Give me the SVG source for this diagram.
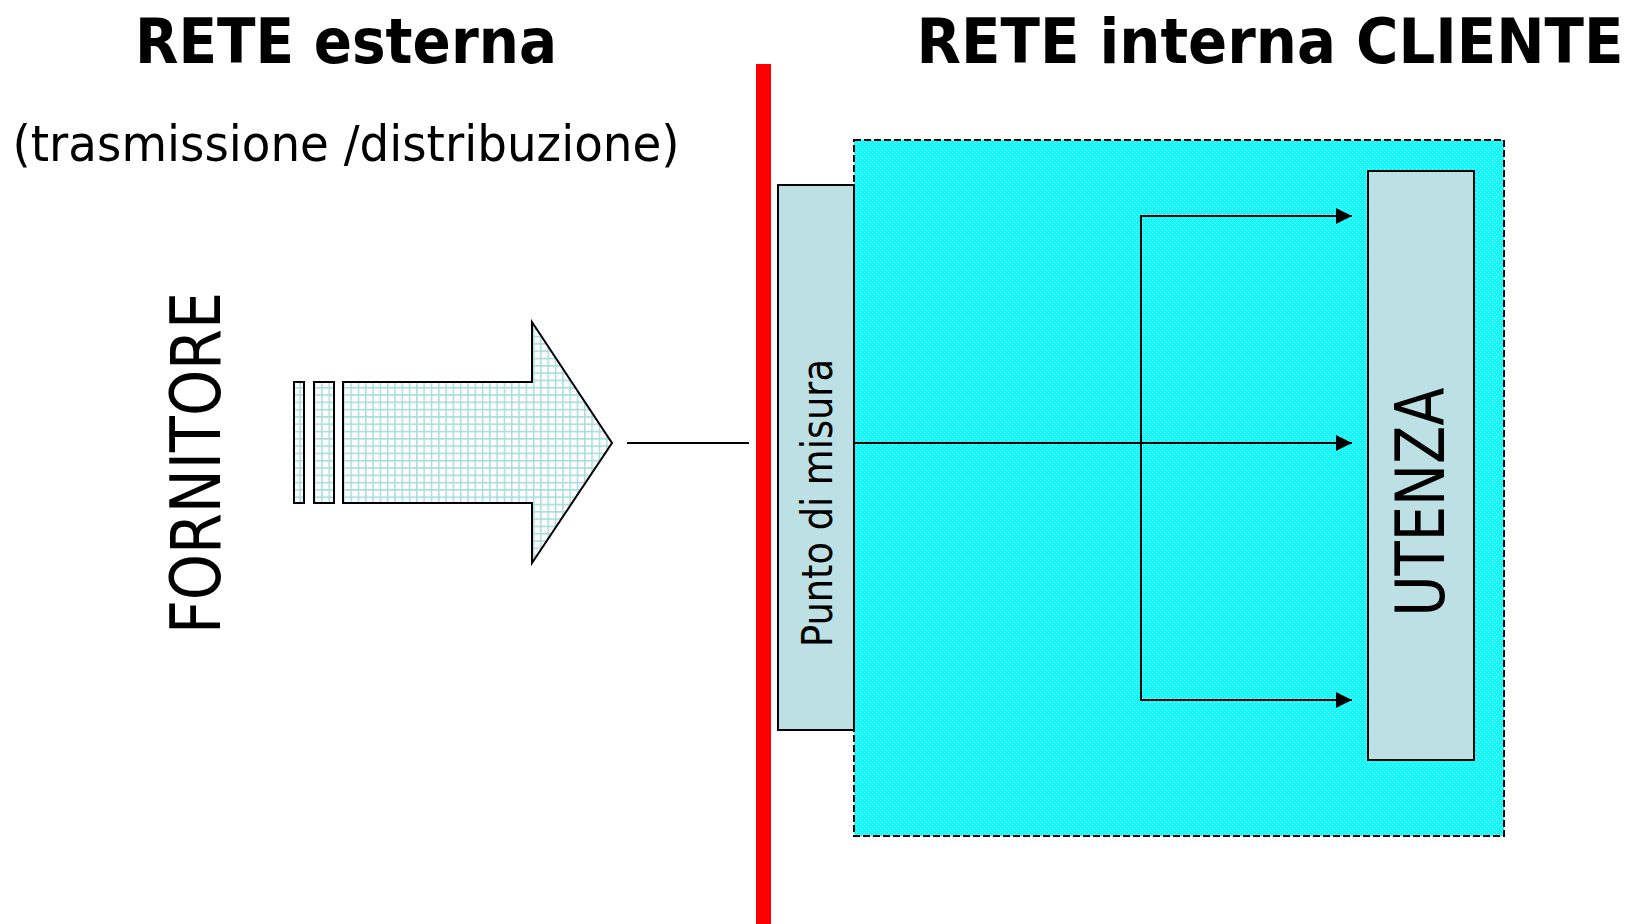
<svg xmlns="http://www.w3.org/2000/svg" width="1634" height="924" viewBox="0 0 1634 924">
<defs>
<style>
.title{font-family:"DejaVu Sans Condensed","DejaVu Sans",sans-serif;font-weight:bold;fill:#000}
.reg{font-family:"DejaVu Sans Condensed","DejaVu Sans",sans-serif;fill:#000}
.box{fill:#bce0e3;stroke:#000;stroke-width:2}
.conn{fill:none;stroke:#000;stroke-width:2}
</style>
<pattern id="grid" width="7.3" height="7.3" patternUnits="userSpaceOnUse">
<rect width="7.3" height="7.3" fill="#ffffff"/>
<path d="M0 0.7H7.3M0.7 0V7.3" stroke="#a9dcdc" stroke-width="1.6"/>
</pattern>
<pattern id="dots" width="4" height="4" patternUnits="userSpaceOnUse">
<rect width="4" height="4" fill="#00ffff"/>
<rect x="0" y="0" width="1" height="1" fill="#ffffff"/>
<rect x="2" y="2" width="1" height="1" fill="#ffffff"/>
</pattern>
<marker id="ah" markerWidth="16" markerHeight="16" refX="16" refY="8" orient="auto" markerUnits="userSpaceOnUse">
<path d="M0 0L16 8L0 16Z" fill="#000"/>
</marker>
</defs>
<rect width="1634" height="924" fill="#ffffff"/>

<g id="titles">
<text class="title" x="346" y="63" font-size="62" text-anchor="middle" textLength="422" lengthAdjust="spacingAndGlyphs">RETE esterna</text>
<text class="reg" x="346" y="161" font-size="50" text-anchor="middle" textLength="667" lengthAdjust="spacingAndGlyphs">(trasmissione /distribuzione)</text>
<text class="title" x="1270" y="63" font-size="62" text-anchor="middle" textLength="707" lengthAdjust="spacingAndGlyphs">RETE interna CLIENTE</text>
</g>

<g id="fornitore">
<text class="reg" transform="translate(220 463) rotate(-90)" x="0" y="0" font-size="70" text-anchor="middle" textLength="342" lengthAdjust="spacingAndGlyphs">FORNITORE</text>
</g>

<g id="big-arrow" stroke="#000" stroke-width="2" fill="url(#grid)">
<rect x="294" y="382" width="10" height="121"/>
<rect x="314" y="382" width="20" height="121"/>
<polygon points="343,382 532,382 532,322 612,443 532,563 532,503 343,503"/>
</g>

<g id="confine">
<rect x="756" y="64" width="15" height="860" fill="#ff0000"/>
</g>

<g id="rete-interna">
<rect x="854" y="140" width="650" height="696" fill="url(#dots)" stroke="#000" stroke-width="2" stroke-dasharray="7 3"/>
</g>

<g id="punto-misura">
<rect class="box" x="778" y="185" width="76" height="545"/>
<text class="reg" transform="translate(832 503) rotate(-90)" x="0" y="0" font-size="42" text-anchor="middle" textLength="288" lengthAdjust="spacingAndGlyphs">Punto di misura</text>
</g>

<g id="utenza">
<rect class="box" x="1368" y="171" width="106" height="589"/>
<text class="reg" transform="translate(1444 502) rotate(-90)" x="0" y="0" font-size="68" text-anchor="middle" textLength="229" lengthAdjust="spacingAndGlyphs">UTENZA</text>
</g>

<g id="connectors">
<path class="conn" d="M627 443H749"/>
<path class="conn" d="M854 443H1352" marker-end="url(#ah)"/>
<path class="conn" d="M1141 443V216H1352" marker-end="url(#ah)"/>
<path class="conn" d="M1141 443V700H1352" marker-end="url(#ah)"/>
</g>
</svg>
